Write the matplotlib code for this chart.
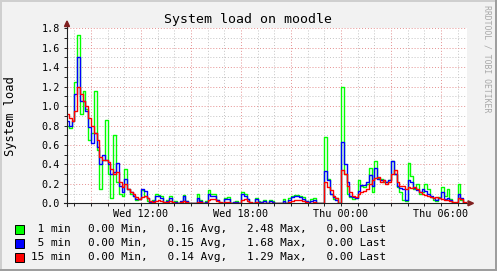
import numpy as np
import matplotlib
matplotlib.use('Agg')
from matplotlib import pyplot as plt
from matplotlib.lines import Line2D
from matplotlib.patches import Polygon, Rectangle
from matplotlib.ticker import MultipleLocator, FuncFormatter

W, H = 497, 271
MONO = 'DejaVu Sans Mono'

# hours since Wed 00:00, one sample every 10 minutes
start_hour = 7.5
step_hour = 1 / 6

load_1min = [
    0.80, 0.77, 0.85, 1.25, 1.73, 0.92, 1.15, 0.97, 0.65, 0.72,
    1.16, 0.55, 0.15, 0.45, 0.86, 0.30, 0.05, 0.70, 0.22, 0.10,
    0.08, 0.35, 0.15, 0.10, 0.07, 0.03, 0.04, 0.14, 0.08, 0.02,
    0.00, 0.03, 0.10, 0.09, 0.08, 0.00, 0.03, 0.07, 0.00, 0.02,
    0.00, 0.00, 0.09, 0.02, 0.00, 0.00, 0.00, 0.10, 0.03, 0.00,
    0.02, 0.14, 0.10, 0.10, 0.03, 0.00, 0.00, 0.05, 0.06, 0.00,
    0.01, 0.02, 0.00, 0.12, 0.10, 0.04, 0.00, 0.00, 0.05, 0.02,
    0.01, 0.03, 0.00, 0.03, 0.02, 0.00, 0.00, 0.00, 0.04, 0.00,
    0.05, 0.07, 0.09, 0.09, 0.07, 0.06, 0.02, 0.01, 0.04, 0.05,
    0.00, 0.00, 0.00, 0.68, 0.25, 0.10, 0.04, 0.05, 0.00, 1.20,
    0.30, 0.10, 0.06, 0.04, 0.05, 0.24, 0.18, 0.17, 0.20, 0.36,
    0.12, 0.44, 0.26, 0.25, 0.22, 0.22, 0.24, 0.43, 0.30, 0.17,
    0.12, 0.03, 0.02, 0.41, 0.28, 0.15, 0.20, 0.10, 0.12, 0.20,
    0.15, 0.06, 0.03, 0.02, 0.06, 0.17, 0.08, 0.15, 0.04, 0.00,
    0.00, 0.20, 0.03, 0.00,
]
load_5min = [
    0.85, 0.80, 0.85, 1.12, 1.50, 1.05, 1.05, 0.95, 0.78, 0.62,
    0.72, 0.58, 0.40, 0.50, 0.45, 0.40, 0.30, 0.32, 0.41, 0.18,
    0.12, 0.25, 0.15, 0.12, 0.08, 0.04, 0.04, 0.15, 0.13, 0.05,
    0.01, 0.02, 0.07, 0.07, 0.05, 0.00, 0.02, 0.05, 0.00, 0.01,
    0.00, 0.02, 0.07, 0.02, 0.00, 0.00, 0.00, 0.05, 0.02, 0.00,
    0.01, 0.10, 0.08, 0.08, 0.03, 0.00, 0.00, 0.04, 0.04, 0.00,
    0.01, 0.01, 0.00, 0.10, 0.08, 0.04, 0.00, 0.00, 0.04, 0.01,
    0.01, 0.02, 0.00, 0.02, 0.01, 0.00, 0.00, 0.00, 0.02, 0.00,
    0.03, 0.06, 0.07, 0.07, 0.06, 0.04, 0.02, 0.01, 0.02, 0.03,
    0.00, 0.00, 0.00, 0.33, 0.24, 0.10, 0.06, 0.03, 0.00, 0.63,
    0.40, 0.22, 0.08, 0.06, 0.05, 0.13, 0.19, 0.19, 0.22, 0.29,
    0.18, 0.36, 0.25, 0.24, 0.24, 0.22, 0.24, 0.43, 0.30, 0.18,
    0.16, 0.15, 0.03, 0.24, 0.22, 0.16, 0.14, 0.12, 0.15, 0.13,
    0.10, 0.08, 0.05, 0.03, 0.05, 0.12, 0.04, 0.05, 0.03, 0.00,
    0.00, 0.10, 0.05, 0.00,
]
load_15min = [
    0.92, 0.88, 0.85, 0.95, 1.20, 1.12, 1.05, 1.00, 0.88, 0.80,
    0.72, 0.65, 0.48, 0.45, 0.45, 0.42, 0.35, 0.30, 0.32, 0.22,
    0.17, 0.20, 0.15, 0.12, 0.10, 0.06, 0.04, 0.06, 0.07, 0.05,
    0.02, 0.01, 0.02, 0.03, 0.02, 0.01, 0.01, 0.02, 0.01, 0.00,
    0.00, 0.01, 0.02, 0.01, 0.00, 0.00, 0.00, 0.01, 0.01, 0.00,
    0.00, 0.03, 0.04, 0.04, 0.02, 0.01, 0.00, 0.01, 0.01, 0.00,
    0.00, 0.00, 0.00, 0.03, 0.04, 0.02, 0.01, 0.00, 0.01, 0.00,
    0.00, 0.00, 0.00, 0.00, 0.00, 0.00, 0.00, 0.00, 0.00, 0.00,
    0.01, 0.02, 0.03, 0.03, 0.03, 0.02, 0.01, 0.00, 0.00, 0.01,
    0.00, 0.00, 0.00, 0.22, 0.17, 0.14, 0.08, 0.05, 0.00, 0.34,
    0.30, 0.18, 0.12, 0.08, 0.06, 0.10, 0.12, 0.13, 0.15, 0.20,
    0.24, 0.26, 0.27, 0.22, 0.24, 0.20, 0.22, 0.30, 0.34, 0.22,
    0.18, 0.18, 0.15, 0.17, 0.16, 0.17, 0.15, 0.12, 0.10, 0.09,
    0.07, 0.06, 0.05, 0.06, 0.05, 0.04, 0.03, 0.03, 0.02, 0.01,
    0.01, 0.05, 0.04, 0.01,
]

series_labels = [' 1 min', ' 5 min', '15 min']
series_colors = ['#00ff00', '#0000ff', '#ff0000']
stat_min = ['0.00', '0.00', '0.00']
stat_avg = ['0.16', '0.15', '0.14']
stat_max = ['2.48', '1.68', '1.29']
stat_last = ['0.00', '0.00', '0.00']

x_tick_labels = {12: 'Wed 12:00', 18: 'Wed 18:00', 24: 'Thu 00:00', 30: 'Thu 06:00'}


def fx(x):
    return x / W


def fy(y):
    return 1 - y / H


fig = plt.figure(figsize=(W / 100, H / 100), dpi=100, facecolor='#f2f2f2')

# graph area (pixels: x 67..467, y 28..203)
ax = fig.add_axes([fx(67), fy(203.3), 400 / W, 175 / H])
ax.set_facecolor('white')

for vals, color in zip([load_1min, load_5min, load_15min], series_colors):
    vals = np.array(vals)
    t = start_hour + step_hour * np.arange(len(vals) + 1)
    ax.step(t, np.append(vals, vals[-1]), where='post', color=color, lw=1.0, zorder=3)

ax.set_xlim(7.56, 31.56)
ax.set_ylim(0, 1.8)

ax.xaxis.set_major_locator(MultipleLocator(3))
ax.xaxis.set_minor_locator(MultipleLocator(1))
ax.xaxis.set_major_formatter(FuncFormatter(lambda v, p: x_tick_labels.get(int(round(v)), '')))
ax.yaxis.set_major_locator(MultipleLocator(0.2))
ax.yaxis.set_minor_locator(MultipleLocator(0.1))
ax.yaxis.set_major_formatter(FuncFormatter(lambda v, p: '%.1f' % v))

ax.set_axisbelow(True)
ax.grid(which='minor', color='#c4c4c4', linestyle=(0, (1, 2)), lw=0.7)
ax.grid(which='major', color='#e59090', linestyle=(0, (1, 2)), lw=0.7)

ax.tick_params(which='both', direction='out', length=2, width=0.7, color='#1f1f1f')
ax.tick_params(axis='y', labelsize=7.3, pad=3)
ax.tick_params(axis='x', labelsize=7.3, pad=2)
for lab in ax.get_xticklabels() + ax.get_yticklabels():
    lab.set_family(MONO)
for s in ax.spines.values():
    s.set_visible(False)

# axis lines with arrows
fig.add_artist(Line2D([fx(67), fx(67)], [fy(206), fy(25)], color='#1f1f1f', lw=0.8, zorder=5))
fig.add_artist(Line2D([fx(64), fx(469)], [fy(203.3), fy(203.3)], color='#1f1f1f', lw=0.8, zorder=5))
fig.add_artist(Polygon([(fx(64.5), fy(26.5)), (fx(69.5), fy(26.5)), (fx(67), fy(21))],
                       closed=True, color='#801f1f', zorder=6))
fig.add_artist(Polygon([(fx(468), fy(200.8)), (fx(468), fy(205.8)), (fx(473.5), fy(203.3))],
                       closed=True, color='#801f1f', zorder=6))

fig.text(fx(248), fy(19.5), 'System load on moodle', ha='center', va='center',
         fontsize=9.5, family=MONO)
fig.text(fx(10.5), fy(115.7), 'System load', rotation=90, ha='center', va='center',
         fontsize=8.7, family=MONO)
fig.text(fx(487.5), fy(5), 'RRDTOOL / TOBI OETIKER', rotation=270, ha='center', va='top',
         fontsize=5.9, family=MONO, color='#a8a8a8')

# legend
row_y = [229, 243.3, 257.5]
for k in range(3):
    y = row_y[k]
    fig.add_artist(Rectangle((fx(15), fy(y + 4.5)), 9 / W, 9 / H, facecolor=series_colors[k],
                             edgecolor='black', lw=0.7))
    fig.text(fx(30.7), fy(y), series_labels[k], ha='left', va='center', fontsize=7.9, family=MONO)
    stats = '%s Min,   %s Avg,   %s Max,   %s Last' % (stat_min[k], stat_avg[k], stat_max[k], stat_last[k])
    fig.text(fx(88.3), fy(y), stats, ha='left', va='center', fontsize=7.9, family=MONO)

# 3d frame around the image
fig.add_artist(Rectangle((0, fy(2)), 1, 2 / H, color='#cfcfcf', lw=0))
fig.add_artist(Rectangle((0, 0), 2 / W, 1, color='#cfcfcf', lw=0))
fig.add_artist(Rectangle((0, 0), 1, 2 / H, color='#9e9e9e', lw=0))
fig.add_artist(Rectangle((fx(W - 2), 0), 2 / W, 1, color='#9e9e9e', lw=0))

fig.savefig('out.png', dpi=100, facecolor=fig.get_facecolor())
